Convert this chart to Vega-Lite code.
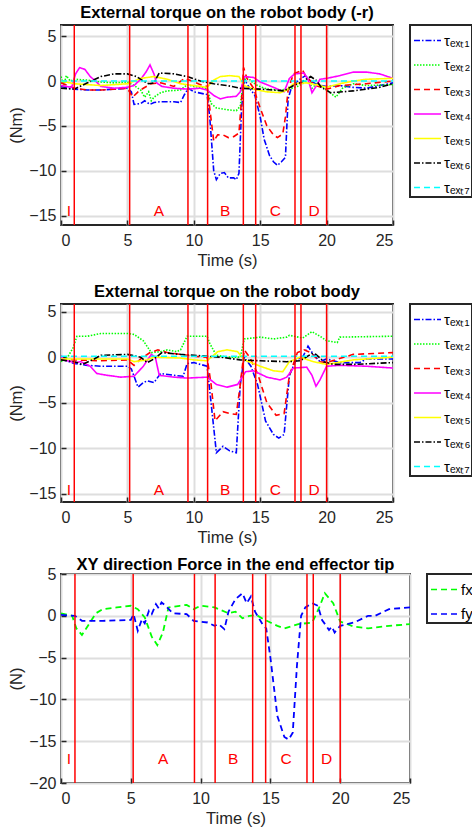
{
  "$schema": "https://vega.github.io/schema/vega-lite/v6.json",
  "padding": {"left": 7, "top": 4, "right": 0, "bottom": 5},
  "background": "white",
  "config": {
    "font": "Liberation Sans",
    "view": {"stroke": "#262626", "strokeWidth": 2},
    "axis": {
      "domain": false,
      "grid": true,
      "gridColor": "#dedede",
      "gridWidth": 2,
      "labelFont": "Liberation Sans",
      "labelFontSize": 16,
      "labelColor": "#262626",
      "titleFont": "Liberation Sans",
      "titleFontSize": 16.5,
      "titleFontWeight": "normal",
      "titleColor": "#262626",
      "tickColor": "#262626",
      "tickSize": -5,
      "tickWidth": 1.5
    },
    "axisX": {"labelPadding": 12, "titlePadding": 4},
    "axisY": {"labelPadding": 10, "titlePadding": 4},
    "title": {"font": "Liberation Sans", "fontSize": 16.5, "fontWeight": "bold", "color": "black", "offset": 2.5, "frame": "group"},
    "legend": {
      "strokeColor": "#262626",
      "strokeWidth": 2,
      "fillColor": "white",
      "padding": 1,
      "symbolOffset": 2,
      "symbolType": "stroke",
      "symbolSize": 729,
      "symbolStrokeWidth": 1.5,
      "labelFont": "Liberation Sans",
      "labelFontSize": 15,
      "labelColor": "black",
      "labelOffset": 2,
      "rowPadding": 1.5,
      "labelLimit": 300
    }
  },
  "datasets": {
    "ev": [{"t": 1.0}, {"t": 5.17}, {"t": 9.56}, {"t": 11.04}, {"t": 13.73}, {"t": 14.66}, {"t": 17.62}, {"t": 18.07}, {"t": 20.0}],
    "lab1": [{"t": 0.6, "v": -14.5, "label": "I"}, {"t": 7.38, "v": -14.5, "label": "A"}, {"t": 12.37, "v": -14.5, "label": "B"}, {"t": 16.14, "v": -14.5, "label": "C"}, {"t": 19.05, "v": -14.5, "label": "D"}],
    "lab2": [{"t": 0.6, "v": -14.6, "label": "I"}, {"t": 7.38, "v": -14.6, "label": "A"}, {"t": 12.37, "v": -14.6, "label": "B"}, {"t": 16.14, "v": -14.6, "label": "C"}, {"t": 19.05, "v": -14.6, "label": "D"}],
    "lab3": [{"t": 0.57, "v": -17.1, "label": "I"}, {"t": 7.31, "v": -17.1, "label": "A"}, {"t": 12.33, "v": -17.1, "label": "B"}, {"t": 16.13, "v": -17.1, "label": "C"}, {"t": 19.02, "v": -17.1, "label": "D"}],
    "p1": [
      {"s":"τₑₓₜ₁","t":0,"v":-0.6},{"s":"τₑₓₜ₁","t":0.5,"v":-0.8},{"s":"τₑₓₜ₁","t":1,"v":-0.9},{"s":"τₑₓₜ₁","t":2,"v":-1.0},{"s":"τₑₓₜ₁","t":3,"v":-1.0},{"s":"τₑₓₜ₁","t":4,"v":-0.9},{"s":"τₑₓₜ₁","t":5,"v":-0.8},{"s":"τₑₓₜ₁","t":5.3,"v":-1.2},{"s":"τₑₓₜ₁","t":5.5,"v":-2.6},{"s":"τₑₓₜ₁","t":6,"v":-2.5},{"s":"τₑₓₜ₁","t":6.3,"v":-2.2},{"s":"τₑₓₜ₁","t":6.7,"v":-2.6},{"s":"τₑₓₜ₁","t":7,"v":-2.4},{"s":"τₑₓₜ₁","t":7.5,"v":-2.3},{"s":"τₑₓₜ₁","t":8.5,"v":-2.3},{"s":"τₑₓₜ₁","t":9.0,"v":-2.4},{"s":"τₑₓₜ₁","t":9.3,"v":-1.5},{"s":"τₑₓₜ₁","t":9.6,"v":-0.8},{"s":"τₑₓₜ₁","t":10,"v":-1.2},{"s":"τₑₓₜ₁","t":11,"v":-1.5},{"s":"τₑₓₜ₁","t":11.2,"v":-4},{"s":"τₑₓₜ₁","t":11.5,"v":-10},{"s":"τₑₓₜ₁","t":11.7,"v":-11},{"s":"τₑₓₜ₁","t":12,"v":-10.3},{"s":"τₑₓₜ₁","t":12.3,"v":-10.2},{"s":"τₑₓₜ₁","t":12.6,"v":-10.8},{"s":"τₑₓₜ₁","t":13,"v":-10.8},{"s":"τₑₓₜ₁","t":13.2,"v":-11},{"s":"τₑₓₜ₁","t":13.4,"v":-10.3},{"s":"τₑₓₜ₁","t":13.6,"v":-3},{"s":"τₑₓₜ₁","t":13.8,"v":0.2},{"s":"τₑₓₜ₁","t":14.2,"v":-0.8},{"s":"τₑₓₜ₁","t":14.6,"v":-1.6},{"s":"τₑₓₜ₁","t":15,"v":-4},{"s":"τₑₓₜ₁","t":15.3,"v":-6.5},{"s":"τₑₓₜ₁","t":15.7,"v":-8.3},{"s":"τₑₓₜ₁","t":16,"v":-9},{"s":"τₑₓₜ₁","t":16.3,"v":-9.4},{"s":"τₑₓₜ₁","t":16.6,"v":-9},{"s":"τₑₓₜ₁","t":16.9,"v":-8.5},{"s":"τₑₓₜ₁","t":17.1,"v":-2},{"s":"τₑₓₜ₁","t":17.4,"v":-0.5},{"s":"τₑₓₜ₁","t":18,"v":0.2},{"s":"τₑₓₜ₁","t":18.4,"v":0.6},{"s":"τₑₓₜ₁","t":18.8,"v":0},{"s":"τₑₓₜ₁","t":19.3,"v":-0.4},{"s":"τₑₓₜ₁","t":20,"v":-0.6},{"s":"τₑₓₜ₁","t":21,"v":-0.5},{"s":"τₑₓₜ₁","t":22,"v":-0.7},{"s":"τₑₓₜ₁","t":23,"v":-0.8},{"s":"τₑₓₜ₁","t":24,"v":-0.5},{"s":"τₑₓₜ₁","t":25,"v":-0.2},
      {"s":"τₑₓₜ₂","t":0,"v":0.5},{"s":"τₑₓₜ₂","t":0.2,"v":-0.5},{"s":"τₑₓₜ₂","t":0.4,"v":0.6},{"s":"τₑₓₜ₂","t":0.7,"v":0},{"s":"τₑₓₜ₂","t":1,"v":0.2},{"s":"τₑₓₜ₂","t":2,"v":0.1},{"s":"τₑₓₜ₂","t":3,"v":-0.1},{"s":"τₑₓₜ₂","t":4,"v":-0.2},{"s":"τₑₓₜ₂","t":5,"v":-0.1},{"s":"τₑₓₜ₂","t":5.5,"v":-0.5},{"s":"τₑₓₜ₂","t":6,"v":-1},{"s":"τₑₓₜ₂","t":6.3,"v":-1.8},{"s":"τₑₓₜ₂","t":6.6,"v":-1.2},{"s":"τₑₓₜ₂","t":6.8,"v":-2.2},{"s":"τₑₓₜ₂","t":7,"v":-1.8},{"s":"τₑₓₜ₂","t":7.5,"v":-1.3},{"s":"τₑₓₜ₂","t":8,"v":-1.1},{"s":"τₑₓₜ₂","t":9,"v":-1},{"s":"τₑₓₜ₂","t":9.5,"v":-0.4},{"s":"τₑₓₜ₂","t":10,"v":-0.6},{"s":"τₑₓₜ₂","t":11,"v":-0.8},{"s":"τₑₓₜ₂","t":11.3,"v":-2.5},{"s":"τₑₓₜ₂","t":11.7,"v":-3},{"s":"τₑₓₜ₂","t":12.5,"v":-3.2},{"s":"τₑₓₜ₂","t":13.2,"v":-3.3},{"s":"τₑₓₜ₂","t":13.5,"v":-2.8},{"s":"τₑₓₜ₂","t":13.7,"v":-0.3},{"s":"τₑₓₜ₂","t":14,"v":0.6},{"s":"τₑₓₜ₂","t":14.3,"v":0},{"s":"τₑₓₜ₂","t":14.8,"v":-0.5},{"s":"τₑₓₜ₂","t":15.5,"v":-0.9},{"s":"τₑₓₜ₂","t":16.5,"v":-1.0},{"s":"τₑₓₜ₂","t":17.2,"v":-0.9},{"s":"τₑₓₜ₂","t":17.8,"v":-0.6},{"s":"τₑₓₜ₂","t":18.3,"v":-0.2},{"s":"τₑₓₜ₂","t":18.6,"v":0.3},{"s":"τₑₓₜ₂","t":18.9,"v":-0.8},{"s":"τₑₓₜ₂","t":19.3,"v":-0.2},{"s":"τₑₓₜ₂","t":20,"v":-1.0},{"s":"τₑₓₜ₂","t":20.7,"v":-1.8},{"s":"τₑₓₜ₂","t":21.2,"v":-0.8},{"s":"τₑₓₜ₂","t":22,"v":-0.3},{"s":"τₑₓₜ₂","t":23,"v":-0.5},{"s":"τₑₓₜ₂","t":25,"v":-0.4},
      {"s":"τₑₓₜ₃","t":0,"v":-0.2},{"s":"τₑₓₜ₃","t":1,"v":-0.8},{"s":"τₑₓₜ₃","t":2,"v":-1.0},{"s":"τₑₓₜ₃","t":3,"v":-1.0},{"s":"τₑₓₜ₃","t":4,"v":-0.9},{"s":"τₑₓₜ₃","t":5,"v":-0.8},{"s":"τₑₓₜ₃","t":5.4,"v":-1.8},{"s":"τₑₓₜ₃","t":5.8,"v":-1.2},{"s":"τₑₓₜ₃","t":6.2,"v":-0.8},{"s":"τₑₓₜ₃","t":6.8,"v":-0.3},{"s":"τₑₓₜ₃","t":7.5,"v":-0.2},{"s":"τₑₓₜ₃","t":8.5,"v":-0.6},{"s":"τₑₓₜ₃","t":9.3,"v":0.3},{"s":"τₑₓₜ₃","t":9.7,"v":0.1},{"s":"τₑₓₜ₃","t":10.5,"v":-0.4},{"s":"τₑₓₜ₃","t":11,"v":-0.6},{"s":"τₑₓₜ₃","t":11.2,"v":-3},{"s":"τₑₓₜ₃","t":11.5,"v":-6.7},{"s":"τₑₓₜ₃","t":11.8,"v":-6},{"s":"τₑₓₜ₃","t":12.2,"v":-6},{"s":"τₑₓₜ₃","t":12.6,"v":-6.3},{"s":"τₑₓₜ₃","t":13,"v":-6.2},{"s":"τₑₓₜ₃","t":13.4,"v":-5.8},{"s":"τₑₓₜ₃","t":13.6,"v":-2},{"s":"τₑₓₜ₃","t":13.75,"v":1.5},{"s":"τₑₓₜ₃","t":14,"v":0.3},{"s":"τₑₓₜ₃","t":14.5,"v":-0.8},{"s":"τₑₓₜ₃","t":15,"v":-3},{"s":"τₑₓₜ₃","t":15.5,"v":-5},{"s":"τₑₓₜ₃","t":16,"v":-6},{"s":"τₑₓₜ₃","t":16.3,"v":-6.3},{"s":"τₑₓₜ₃","t":16.7,"v":-5.9},{"s":"τₑₓₜ₃","t":16.9,"v":-4},{"s":"τₑₓₜ₃","t":17.1,"v":-1},{"s":"τₑₓₜ₃","t":17.5,"v":0.8},{"s":"τₑₓₜ₃","t":18.2,"v":1.2},{"s":"τₑₓₜ₃","t":18.4,"v":0.6},{"s":"τₑₓₜ₃","t":18.8,"v":0},{"s":"τₑₓₜ₃","t":19.2,"v":-0.5},{"s":"τₑₓₜ₃","t":20,"v":-0.9},{"s":"τₑₓₜ₃","t":21,"v":-0.5},{"s":"τₑₓₜ₃","t":23,"v":-0.3},{"s":"τₑₓₜ₃","t":25,"v":0},
      {"s":"τₑₓₜ₄","t":0,"v":-0.5},{"s":"τₑₓₜ₄","t":0.8,"v":-0.7},{"s":"τₑₓₜ₄","t":1.1,"v":0.8},{"s":"τₑₓₜ₄","t":1.4,"v":1.5},{"s":"τₑₓₜ₄","t":1.8,"v":1.3},{"s":"τₑₓₜ₄","t":2.2,"v":0.5},{"s":"τₑₓₜ₄","t":2.6,"v":0},{"s":"τₑₓₜ₄","t":3,"v":-0.6},{"s":"τₑₓₜ₄","t":4,"v":-0.8},{"s":"τₑₓₜ₄","t":5,"v":-0.7},{"s":"τₑₓₜ₄","t":5.5,"v":-0.5},{"s":"τₑₓₜ₄","t":6,"v":0.2},{"s":"τₑₓₜ₄","t":6.4,"v":1.0},{"s":"τₑₓₜ₄","t":6.7,"v":1.8},{"s":"τₑₓₜ₄","t":7.0,"v":0.8},{"s":"τₑₓₜ₄","t":7.2,"v":-0.2},{"s":"τₑₓₜ₄","t":7.6,"v":-0.6},{"s":"τₑₓₜ₄","t":8.5,"v":-0.8},{"s":"τₑₓₜ₄","t":9.5,"v":-0.9},{"s":"τₑₓₜ₄","t":10.5,"v":-0.8},{"s":"τₑₓₜ₄","t":11,"v":-1.0},{"s":"τₑₓₜ₄","t":11.5,"v":-1.6},{"s":"τₑₓₜ₄","t":12,"v":-2.0},{"s":"τₑₓₜ₄","t":12.5,"v":-1.8},{"s":"τₑₓₜ₄","t":13.2,"v":-1.7},{"s":"τₑₓₜ₄","t":13.5,"v":-1.2},{"s":"τₑₓₜ₄","t":13.8,"v":0.5},{"s":"τₑₓₜ₄","t":14.5,"v":0.4},{"s":"τₑₓₜ₄","t":15,"v":-0.1},{"s":"τₑₓₜ₄","t":16,"v":-0.7},{"s":"τₑₓₜ₄","t":16.8,"v":-1.2},{"s":"τₑₓₜ₄","t":17.2,"v":0.3},{"s":"τₑₓₜ₄","t":17.6,"v":0.8},{"s":"τₑₓₜ₄","t":18.3,"v":0.9},{"s":"τₑₓₜ₄","t":18.6,"v":0.2},{"s":"τₑₓₜ₄","t":18.9,"v":-1.3},{"s":"τₑₓₜ₄","t":19.2,"v":-0.6},{"s":"τₑₓₜ₄","t":19.5,"v":0.2},{"s":"τₑₓₜ₄","t":20,"v":0.3},{"s":"τₑₓₜ₄","t":21,"v":0.6},{"s":"τₑₓₜ₄","t":22,"v":1.0},{"s":"τₑₓₜ₄","t":23,"v":1.0},{"s":"τₑₓₜ₄","t":24,"v":0.8},{"s":"τₑₓₜ₄","t":25,"v":0.3},
      {"s":"τₑₓₜ₅","t":0,"v":0},{"s":"τₑₓₜ₅","t":1,"v":-0.3},{"s":"τₑₓₜ₅","t":2,"v":-0.4},{"s":"τₑₓₜ₅","t":3,"v":-0.5},{"s":"τₑₓₜ₅","t":4,"v":-0.4},{"s":"τₑₓₜ₅","t":5,"v":-0.3},{"s":"τₑₓₜ₅","t":6,"v":0.3},{"s":"τₑₓₜ₅","t":7,"v":0.5},{"s":"τₑₓₜ₅","t":8,"v":0.2},{"s":"τₑₓₜ₅","t":9,"v":-0.3},{"s":"τₑₓₜ₅","t":10,"v":-0.5},{"s":"τₑₓₜ₅","t":11,"v":-0.7},{"s":"τₑₓₜ₅","t":11.5,"v":0.1},{"s":"τₑₓₜ₅","t":12,"v":0.5},{"s":"τₑₓₜ₅","t":12.7,"v":0.6},{"s":"τₑₓₜ₅","t":13.4,"v":0.5},{"s":"τₑₓₜ₅","t":13.8,"v":-0.5},{"s":"τₑₓₜ₅","t":14.5,"v":-0.9},{"s":"τₑₓₜ₅","t":15.5,"v":-1.2},{"s":"τₑₓₜ₅","t":16.5,"v":-1.3},{"s":"τₑₓₜ₅","t":17,"v":-1.0},{"s":"τₑₓₜ₅","t":17.5,"v":-0.3},{"s":"τₑₓₜ₅","t":18.5,"v":-0.2},{"s":"τₑₓₜ₅","t":19.5,"v":-0.5},{"s":"τₑₓₜ₅","t":20,"v":-0.7},{"s":"τₑₓₜ₅","t":21,"v":-0.3},{"s":"τₑₓₜ₅","t":22,"v":0},{"s":"τₑₓₜ₅","t":23,"v":0.2},{"s":"τₑₓₜ₅","t":25,"v":0.3},
      {"s":"τₑₓₜ₆","t":0,"v":-0.8},{"s":"τₑₓₜ₆","t":1,"v":-0.9},{"s":"τₑₓₜ₆","t":2,"v":-0.2},{"s":"τₑₓₜ₆","t":3,"v":0.5},{"s":"τₑₓₜ₆","t":4,"v":0.8},{"s":"τₑₓₜ₆","t":5,"v":0.8},{"s":"τₑₓₜ₆","t":5.7,"v":0.5},{"s":"τₑₓₜ₆","t":6.2,"v":0},{"s":"τₑₓₜ₆","t":6.6,"v":-0.3},{"s":"τₑₓₜ₆","t":7,"v":-0.2},{"s":"τₑₓₜ₆","t":7.4,"v":0.9},{"s":"τₑₓₜ₆","t":8.5,"v":0.8},{"s":"τₑₓₜ₆","t":9.5,"v":0.5},{"s":"τₑₓₜ₆","t":10.5,"v":0},{"s":"τₑₓₜ₆","t":11.5,"v":-0.3},{"s":"τₑₓₜ₆","t":12.5,"v":-0.5},{"s":"τₑₓₜ₆","t":13.5,"v":-0.8},{"s":"τₑₓₜ₆","t":15,"v":-0.9},{"s":"τₑₓₜ₆","t":16,"v":-1.0},{"s":"τₑₓₜ₆","t":16.8,"v":-1.1},{"s":"τₑₓₜ₆","t":17.5,"v":-0.5},{"s":"τₑₓₜ₆","t":18,"v":-0.2},{"s":"τₑₓₜ₆","t":18.8,"v":0.5},{"s":"τₑₓₜ₆","t":19.2,"v":0.1},{"s":"τₑₓₜ₆","t":19.6,"v":-0.7},{"s":"τₑₓₜ₆","t":20.3,"v":-1.3},{"s":"τₑₓₜ₆","t":22,"v":-1.1},{"s":"τₑₓₜ₆","t":24,"v":-0.7},{"s":"τₑₓₜ₆","t":25,"v":-0.3},
      {"s":"τₑₓₜ₇","t":0,"v":0},{"s":"τₑₓₜ₇","t":12.5,"v":0},{"s":"τₑₓₜ₇","t":25,"v":0}
    ],
    "p2": [
      {"s":"τₑₓₜ₁","t":0,"v":-0.2},{"s":"τₑₓₜ₁","t":1,"v":-0.7},{"s":"τₑₓₜ₁","t":2,"v":-0.9},{"s":"τₑₓₜ₁","t":3,"v":-1.0},{"s":"τₑₓₜ₁","t":5,"v":-1.0},{"s":"τₑₓₜ₁","t":5.3,"v":-1.3},{"s":"τₑₓₜ₁","t":5.8,"v":-3.3},{"s":"τₑₓₜ₁","t":6.2,"v":-2.8},{"s":"τₑₓₜ₁","t":6.5,"v":-2.6},{"s":"τₑₓₜ₁","t":7,"v":-2.8},{"s":"τₑₓₜ₁","t":7.5,"v":-1.8},{"s":"τₑₓₜ₁","t":8.5,"v":-2.0},{"s":"τₑₓₜ₁","t":9.2,"v":-2.1},{"s":"τₑₓₜ₁","t":9.5,"v":-0.7},{"s":"τₑₓₜ₁","t":10,"v":-0.6},{"s":"τₑₓₜ₁","t":11,"v":-1.0},{"s":"τₑₓₜ₁","t":11.3,"v":-5},{"s":"τₑₓₜ₁","t":11.7,"v":-10.5},{"s":"τₑₓₜ₁","t":12.2,"v":-9.8},{"s":"τₑₓₜ₁","t":12.7,"v":-10.3},{"s":"τₑₓₜ₁","t":13.2,"v":-10.5},{"s":"τₑₓₜ₁","t":13.5,"v":-3},{"s":"τₑₓₜ₁","t":13.8,"v":0},{"s":"τₑₓₜ₁","t":14.3,"v":-1.0},{"s":"τₑₓₜ₁","t":14.8,"v":-3},{"s":"τₑₓₜ₁","t":15.4,"v":-7},{"s":"τₑₓₜ₁","t":16,"v":-8.5},{"s":"τₑₓₜ₁","t":16.4,"v":-8.9},{"s":"τₑₓₜ₁","t":16.8,"v":-8.5},{"s":"τₑₓₜ₁","t":17.2,"v":-2},{"s":"τₑₓₜ₁","t":17.7,"v":-0.3},{"s":"τₑₓₜ₁","t":18.2,"v":0},{"s":"τₑₓₜ₁","t":18.6,"v":1.2},{"s":"τₑₓₜ₁","t":19,"v":0.3},{"s":"τₑₓₜ₁","t":19.5,"v":-0.5},{"s":"τₑₓₜ₁","t":20,"v":-0.2},{"s":"τₑₓₜ₁","t":21,"v":-0.6},{"s":"τₑₓₜ₁","t":22.5,"v":-0.6},{"s":"τₑₓₜ₁","t":23,"v":-0.2},{"s":"τₑₓₜ₁","t":25,"v":-0.2},
      {"s":"τₑₓₜ₂","t":0,"v":-0.5},{"s":"τₑₓₜ₂","t":0.5,"v":0},{"s":"τₑₓₜ₂","t":0.9,"v":1.0},{"s":"τₑₓₜ₂","t":1.2,"v":2.3},{"s":"τₑₓₜ₂","t":2,"v":2.3},{"s":"τₑₓₜ₂","t":3,"v":2.6},{"s":"τₑₓₜ₂","t":5,"v":2.6},{"s":"τₑₓₜ₂","t":5.5,"v":2.5},{"s":"τₑₓₜ₂","t":6.2,"v":1.8},{"s":"τₑₓₜ₂","t":6.8,"v":0.5},{"s":"τₑₓₜ₂","t":7.5,"v":0.6},{"s":"τₑₓₜ₂","t":8,"v":0.8},{"s":"τₑₓₜ₂","t":8.7,"v":0.6},{"s":"τₑₓₜ₂","t":9.0,"v":0.8},{"s":"τₑₓₜ₂","t":9.5,"v":2.3},{"s":"τₑₓₜ₂","t":11,"v":2.3},{"s":"τₑₓₜ₂","t":11.2,"v":1.5},{"s":"τₑₓₜ₂","t":11.7,"v":0.2},{"s":"τₑₓₜ₂","t":12.5,"v":0},{"s":"τₑₓₜ₂","t":13.5,"v":0},{"s":"τₑₓₜ₂","t":13.8,"v":2.0},{"s":"τₑₓₜ₂","t":15,"v":2.2},{"s":"τₑₓₜ₂","t":16,"v":2.0},{"s":"τₑₓₜ₂","t":17,"v":2.2},{"s":"τₑₓₜ₂","t":17.2,"v":2.4},{"s":"τₑₓₜ₂","t":18.2,"v":2.1},{"s":"τₑₓₜ₂","t":18.9,"v":2.8},{"s":"τₑₓₜ₂","t":19.5,"v":2.3},{"s":"τₑₓₜ₂","t":20,"v":1.8},{"s":"τₑₓₜ₂","t":20.8,"v":1.6},{"s":"τₑₓₜ₂","t":21,"v":2.2},{"s":"τₑₓₜ₂","t":25,"v":2.3},
      {"s":"τₑₓₜ₃","t":0,"v":-0.2},{"s":"τₑₓₜ₃","t":1,"v":-0.3},{"s":"τₑₓₜ₃","t":3,"v":-0.4},{"s":"τₑₓₜ₃","t":5,"v":-0.3},{"s":"τₑₓₜ₃","t":5.5,"v":-0.9},{"s":"τₑₓₜ₃","t":6,"v":-0.2},{"s":"τₑₓₜ₃","t":6.7,"v":0.5},{"s":"τₑₓₜ₃","t":7.3,"v":0.8},{"s":"τₑₓₜ₃","t":8,"v":0.5},{"s":"τₑₓₜ₃","t":9,"v":0.3},{"s":"τₑₓₜ₃","t":10,"v":0.1},{"s":"τₑₓₜ₃","t":11,"v":0},{"s":"τₑₓₜ₃","t":11.3,"v":-3},{"s":"τₑₓₜ₃","t":11.6,"v":-7},{"s":"τₑₓₜ₃","t":12.2,"v":-6},{"s":"τₑₓₜ₃","t":12.7,"v":-6.2},{"s":"τₑₓₜ₃","t":13.2,"v":-6.3},{"s":"τₑₓₜ₃","t":13.5,"v":-3},{"s":"τₑₓₜ₃","t":13.8,"v":0.8},{"s":"τₑₓₜ₃","t":14.2,"v":0},{"s":"τₑₓₜ₃","t":14.8,"v":-1.8},{"s":"τₑₓₜ₃","t":15.5,"v":-5},{"s":"τₑₓₜ₃","t":16.2,"v":-6.4},{"s":"τₑₓₜ₃","t":16.8,"v":-6.2},{"s":"τₑₓₜ₃","t":17.2,"v":-2},{"s":"τₑₓₜ₃","t":17.8,"v":0.5},{"s":"τₑₓₜ₃","t":18.3,"v":0.8},{"s":"τₑₓₜ₃","t":18.8,"v":0.5},{"s":"τₑₓₜ₃","t":19.5,"v":-0.5},{"s":"τₑₓₜ₃","t":20,"v":-0.6},{"s":"τₑₓₜ₃","t":22,"v":0.3},{"s":"τₑₓₜ₃","t":25,"v":0.5},
      {"s":"τₑₓₜ₄","t":0,"v":0.2},{"s":"τₑₓₜ₄","t":0.2,"v":-0.3},{"s":"τₑₓₜ₄","t":1,"v":-0.6},{"s":"τₑₓₜ₄","t":1.5,"v":-0.5},{"s":"τₑₓₜ₄","t":2.2,"v":-1.0},{"s":"τₑₓₜ₄","t":2.7,"v":-1.8},{"s":"τₑₓₜ₄","t":3.5,"v":-2.0},{"s":"τₑₓₜ₄","t":4.5,"v":-2.2},{"s":"τₑₓₜ₄","t":5.5,"v":-2.1},{"s":"τₑₓₜ₄","t":6.2,"v":-1.0},{"s":"τₑₓₜ₄","t":6.8,"v":0.3},{"s":"τₑₓₜ₄","t":7.1,"v":0},{"s":"τₑₓₜ₄","t":7.4,"v":-2.0},{"s":"τₑₓₜ₄","t":8.5,"v":-2.2},{"s":"τₑₓₜ₄","t":9.5,"v":-2.3},{"s":"τₑₓₜ₄","t":11,"v":-2.2},{"s":"τₑₓₜ₄","t":11.7,"v":-3.0},{"s":"τₑₓₜ₄","t":12.5,"v":-3.3},{"s":"τₑₓₜ₄","t":13.3,"v":-3.0},{"s":"τₑₓₜ₄","t":13.9,"v":-1.6},{"s":"τₑₓₜ₄","t":14.5,"v":-1.5},{"s":"τₑₓₜ₄","t":15.5,"v":-2.2},{"s":"τₑₓₜ₄","t":16.5,"v":-2.5},{"s":"τₑₓₜ₄","t":17,"v":-2.2},{"s":"τₑₓₜ₄","t":17.5,"v":-1.2},{"s":"τₑₓₜ₄","t":18.5,"v":-1.1},{"s":"τₑₓₜ₄","t":18.9,"v":-2.0},{"s":"τₑₓₜ₄","t":19.2,"v":-3.2},{"s":"τₑₓₜ₄","t":19.5,"v":-2.5},{"s":"τₑₓₜ₄","t":20,"v":-1.0},{"s":"τₑₓₜ₄","t":21,"v":-0.9},{"s":"τₑₓₜ₄","t":23,"v":-1.0},{"s":"τₑₓₜ₄","t":25,"v":-1.2},
      {"s":"τₑₓₜ₅","t":0,"v":-0.2},{"s":"τₑₓₜ₅","t":5,"v":-0.2},{"s":"τₑₓₜ₅","t":5.5,"v":-0.5},{"s":"τₑₓₜ₅","t":6.5,"v":-0.3},{"s":"τₑₓₜ₅","t":7,"v":0},{"s":"τₑₓₜ₅","t":9,"v":-0.1},{"s":"τₑₓₜ₅","t":10,"v":-0.3},{"s":"τₑₓₜ₅","t":11,"v":-0.4},{"s":"τₑₓₜ₅","t":11.8,"v":0.6},{"s":"τₑₓₜ₅","t":12.5,"v":0.8},{"s":"τₑₓₜ₅","t":13.3,"v":0.6},{"s":"τₑₓₜ₅","t":13.8,"v":-0.3},{"s":"τₑₓₜ₅","t":15,"v":-1.0},{"s":"τₑₓₜ₅","t":16,"v":-1.5},{"s":"τₑₓₜ₅","t":16.7,"v":-1.6},{"s":"τₑₓₜ₅","t":17.2,"v":-0.5},{"s":"τₑₓₜ₅","t":18,"v":0},{"s":"τₑₓₜ₅","t":19,"v":-0.5},{"s":"τₑₓₜ₅","t":20,"v":-0.8},{"s":"τₑₓₜ₅","t":22,"v":-0.3},{"s":"τₑₓₜ₅","t":25,"v":0},
      {"s":"τₑₓₜ₆","t":0,"v":-0.3},{"s":"τₑₓₜ₆","t":1,"v":-0.5},{"s":"τₑₓₜ₆","t":1.6,"v":-0.8},{"s":"τₑₓₜ₆","t":2.5,"v":-0.2},{"s":"τₑₓₜ₆","t":3,"v":0.2},{"s":"τₑₓₜ₆","t":5,"v":0.3},{"s":"τₑₓₜ₆","t":6,"v":0},{"s":"τₑₓₜ₆","t":6.5,"v":-0.6},{"s":"τₑₓₜ₆","t":7,"v":-0.2},{"s":"τₑₓₜ₆","t":7.6,"v":0.5},{"s":"τₑₓₜ₆","t":9,"v":0.3},{"s":"τₑₓₜ₆","t":10,"v":0.2},{"s":"τₑₓₜ₆","t":12,"v":0},{"s":"τₑₓₜ₆","t":13.5,"v":-0.3},{"s":"τₑₓₜ₆","t":15,"v":-0.4},{"s":"τₑₓₜ₆","t":17,"v":-0.5},{"s":"τₑₓₜ₆","t":18,"v":-0.4},{"s":"τₑₓₜ₆","t":18.9,"v":0.4},{"s":"τₑₓₜ₆","t":19.2,"v":0.3},{"s":"τₑₓₜ₆","t":19.8,"v":-0.5},{"s":"τₑₓₜ₆","t":20.5,"v":-0.8},{"s":"τₑₓₜ₆","t":22,"v":-0.8},{"s":"τₑₓₜ₆","t":25,"v":-0.6},
      {"s":"τₑₓₜ₇","t":0,"v":0.1},{"s":"τₑₓₜ₇","t":12.5,"v":0.1},{"s":"τₑₓₜ₇","t":25,"v":0.1}
    ],
    "p3": [
      {"s":"fx","t":0,"v":0.3},{"s":"fx","t":0.8,"v":0},{"s":"fx","t":1.1,"v":-1.5},{"s":"fx","t":1.5,"v":-2.3},{"s":"fx","t":2,"v":-1},{"s":"fx","t":2.5,"v":0.3},{"s":"fx","t":3,"v":0.8},{"s":"fx","t":4,"v":1},{"s":"fx","t":5,"v":1.2},{"s":"fx","t":5.5,"v":0.8},{"s":"fx","t":6,"v":-0.2},{"s":"fx","t":6.5,"v":-2.5},{"s":"fx","t":6.9,"v":-3.5},{"s":"fx","t":7.3,"v":-2},{"s":"fx","t":7.7,"v":1},{"s":"fx","t":8.5,"v":1.2},{"s":"fx","t":9,"v":1.3},{"s":"fx","t":9.5,"v":0.8},{"s":"fx","t":10,"v":1.2},{"s":"fx","t":11,"v":1},{"s":"fx","t":12,"v":0.3},{"s":"fx","t":12.5,"v":0.5},{"s":"fx","t":13,"v":-0.3},{"s":"fx","t":13.5,"v":0},{"s":"fx","t":14,"v":0.1},{"s":"fx","t":14.5,"v":-0.4},{"s":"fx","t":15,"v":-0.8},{"s":"fx","t":15.5,"v":-1.2},{"s":"fx","t":16,"v":-1.5},{"s":"fx","t":17,"v":-1},{"s":"fx","t":18,"v":-0.8},{"s":"fx","t":18.5,"v":1},{"s":"fx","t":18.9,"v":2.7},{"s":"fx","t":19.5,"v":1.5},{"s":"fx","t":20,"v":-0.7},{"s":"fx","t":21,"v":-1.3},{"s":"fx","t":22,"v":-1.5},{"s":"fx","t":23.5,"v":-1.2},{"s":"fx","t":25,"v":-1},
      {"s":"fy","t":0,"v":0.1},{"s":"fy","t":1,"v":0},{"s":"fy","t":1.5,"v":-0.6},{"s":"fy","t":3,"v":-0.6},{"s":"fy","t":5,"v":-0.5},{"s":"fy","t":5.2,"v":0.2},{"s":"fy","t":5.5,"v":-1.8},{"s":"fy","t":5.8,"v":-0.4},{"s":"fy","t":6.0,"v":-0.9},{"s":"fy","t":6.3,"v":0.6},{"s":"fy","t":6.5,"v":0.2},{"s":"fy","t":6.8,"v":1.4},{"s":"fy","t":7,"v":0.9},{"s":"fy","t":7.2,"v":1.6},{"s":"fy","t":7.5,"v":1.2},{"s":"fy","t":8,"v":0.3},{"s":"fy","t":9,"v":0.2},{"s":"fy","t":9.5,"v":-0.6},{"s":"fy","t":10.5,"v":-0.8},{"s":"fy","t":11,"v":-1.2},{"s":"fy","t":11.3,"v":-1},{"s":"fy","t":11.7,"v":-1.6},{"s":"fy","t":12,"v":0.5},{"s":"fy","t":12.5,"v":2},{"s":"fy","t":13,"v":2.7},{"s":"fy","t":13.3,"v":1.5},{"s":"fy","t":13.6,"v":2.3},{"s":"fy","t":13.9,"v":0.5},{"s":"fy","t":14.5,"v":-1.2},{"s":"fy","t":14.7,"v":-1.5},{"s":"fy","t":15,"v":-5},{"s":"fy","t":15.5,"v":-12},{"s":"fy","t":16,"v":-14.5},{"s":"fy","t":16.3,"v":-14.8},{"s":"fy","t":16.6,"v":-14},{"s":"fy","t":16.9,"v":-6},{"s":"fy","t":17.2,"v":0},{"s":"fy","t":17.5,"v":1},{"s":"fy","t":18,"v":1.5},{"s":"fy","t":18.4,"v":1.2},{"s":"fy","t":18.7,"v":-0.5},{"s":"fy","t":19.0,"v":-1.2},{"s":"fy","t":19.2,"v":-1.7},{"s":"fy","t":19.4,"v":-1.3},{"s":"fy","t":19.6,"v":-2},{"s":"fy","t":20,"v":-1.2},{"s":"fy","t":21,"v":-0.8},{"s":"fy","t":22,"v":0},{"s":"fy","t":22.5,"v":0},{"s":"fy","t":23.5,"v":0.8},{"s":"fy","t":25,"v":1}
    ]
  },
  "spacing": 8,
  "vconcat": [
    {
      "spacing": 13,
      "vconcat": [
        {
          "title": {"text": "External torque on the robot body (-r)"},
          "width": 332,
          "height": 200,
          "layer": [
            {
              "data": {"name": "p1"},
              "mark": {"type": "line", "strokeWidth": 1.6, "clip": true},
              "encoding": {
                "x": {"field": "t", "type": "quantitative", "scale": {"domain": [0, 25], "nice": false}, "axis": {"values": [0, 5, 10, 15, 20, 25], "title": "Time (s)"}},
                "y": {"field": "v", "type": "quantitative", "scale": {"domain": [-16.05, 6.25], "nice": false, "zero": false}, "axis": {"values": [5, 0, -5, -10, -15], "title": "(Nm)"}},
                "color": {"field": "s", "type": "nominal",
                  "scale": {"domain": ["τₑₓₜ₁","τₑₓₜ₂","τₑₓₜ₃","τₑₓₜ₄","τₑₓₜ₅","τₑₓₜ₆","τₑₓₜ₇"], "range": ["#0000ff","#00ff00","#ff0000","#ff00ff","#ffff00","#000000","#00ffff"]},
                  "legend": {"title": null, "orient": "none", "legendX": 349, "legendY": 0}},
                "strokeDash": {"field": "s", "type": "nominal",
                  "scale": {"domain": ["τₑₓₜ₁","τₑₓₜ₂","τₑₓₜ₃","τₑₓₜ₄","τₑₓₜ₅","τₑₓₜ₆","τₑₓₜ₇"], "range": [[6,2,1.5,2],[1.5,1.5],[6,4],[1,0],[1,0],[6,2,1.5,2],[6,4]]},
                  "legend": {"title": null, "orient": "none", "legendX": 349, "legendY": 0}}
              }
            },
            {"data": {"name": "ev"}, "mark": {"type": "rule", "color": "#ff0000", "strokeWidth": 1.5}, "encoding": {"x": {"field": "t", "type": "quantitative"}}},
            {"data": {"name": "lab1"}, "mark": {"type": "text", "color": "#ff0000", "fontSize": 15.5, "font": "Liberation Sans"}, "encoding": {"x": {"field": "t", "type": "quantitative"}, "y": {"field": "v", "type": "quantitative"}, "text": {"field": "label"}}}
          ]
        },
        {
          "title": {"text": "External torque on the robot body"},
          "width": 332,
          "height": 198,
          "layer": [
            {
              "data": {"name": "p2"},
              "mark": {"type": "line", "strokeWidth": 1.6, "clip": true},
              "encoding": {
                "x": {"field": "t", "type": "quantitative", "scale": {"domain": [0, 25], "nice": false}, "axis": {"values": [0, 5, 10, 15, 20, 25], "title": "Time (s)"}},
                "y": {"field": "v", "type": "quantitative", "scale": {"domain": [-15.92, 5.84], "nice": false, "zero": false}, "axis": {"values": [5, 0, -5, -10, -15], "title": "(Nm)"}},
                "color": {"field": "s", "type": "nominal",
                  "scale": {"domain": ["τₑₓₜ₁","τₑₓₜ₂","τₑₓₜ₃","τₑₓₜ₄","τₑₓₜ₅","τₑₓₜ₆","τₑₓₜ₇"], "range": ["#0000ff","#00ff00","#ff0000","#ff00ff","#ffff00","#000000","#00ffff"]},
                  "legend": {"title": null, "orient": "none", "legendX": 349, "legendY": 0}},
                "strokeDash": {"field": "s", "type": "nominal",
                  "scale": {"domain": ["τₑₓₜ₁","τₑₓₜ₂","τₑₓₜ₃","τₑₓₜ₄","τₑₓₜ₅","τₑₓₜ₆","τₑₓₜ₇"], "range": [[6,2,1.5,2],[1.5,1.5],[6,4],[1,0],[1,0],[6,2,1.5,2],[6,4]]},
                  "legend": {"title": null, "orient": "none", "legendX": 349, "legendY": 0}}
              }
            },
            {"data": {"name": "ev"}, "mark": {"type": "rule", "color": "#ff0000", "strokeWidth": 1.5}, "encoding": {"x": {"field": "t", "type": "quantitative"}}},
            {"data": {"name": "lab2"}, "mark": {"type": "text", "color": "#ff0000", "fontSize": 15.5, "font": "Liberation Sans"}, "encoding": {"x": {"field": "t", "type": "quantitative"}, "y": {"field": "v", "type": "quantitative"}, "text": {"field": "label"}}}
          ]
        }
      ],
      "resolve": {"scale": {"x": "independent", "y": "independent", "color": "independent", "strokeDash": "independent"}, "legend": {"color": "independent", "strokeDash": "independent"}}
    },
    {
      "title": {"text": "XY direction Force in the end effector tip", "offset": -7},
      "width": 349,
      "height": 209,
      "layer": [
        {
          "data": {"name": "p3"},
          "mark": {"type": "line", "strokeWidth": 1.8, "clip": true},
          "encoding": {
            "x": {"field": "t", "type": "quantitative", "scale": {"domain": [0, 25], "nice": false}, "axis": {"values": [0, 5, 10, 15, 20, 25], "title": "Time (s)"}},
            "y": {"field": "v", "type": "quantitative", "scale": {"domain": [-20, 5], "nice": false, "zero": false}, "axis": {"values": [5, 0, -5, -10, -15, -20], "title": "(N)"}},
            "color": {"field": "s", "type": "nominal",
              "scale": {"domain": ["fx","fy"], "range": ["#00ff00","#0000ff"]},
              "legend": {"title": null, "orient": "none", "legendX": 366, "legendY": 0}},
            "strokeDash": {"field": "s", "type": "nominal",
              "scale": {"domain": ["fx","fy"], "range": [[6,4],[6,4]]},
              "legend": {"title": null, "orient": "none", "legendX": 366, "legendY": 0}}
          }
        },
        {"data": {"name": "ev"}, "mark": {"type": "rule", "color": "#ff0000", "strokeWidth": 1.5}, "encoding": {"x": {"field": "t", "type": "quantitative"}}},
        {"data": {"name": "lab3"}, "mark": {"type": "text", "color": "#ff0000", "fontSize": 15.5, "font": "Liberation Sans"}, "encoding": {"x": {"field": "t", "type": "quantitative"}, "y": {"field": "v", "type": "quantitative"}, "text": {"field": "label"}}}
      ]
    }
  ],
  "resolve": {"scale": {"x": "independent", "y": "independent", "color": "independent", "strokeDash": "independent"}, "legend": {"color": "independent", "strokeDash": "independent"}}
}
